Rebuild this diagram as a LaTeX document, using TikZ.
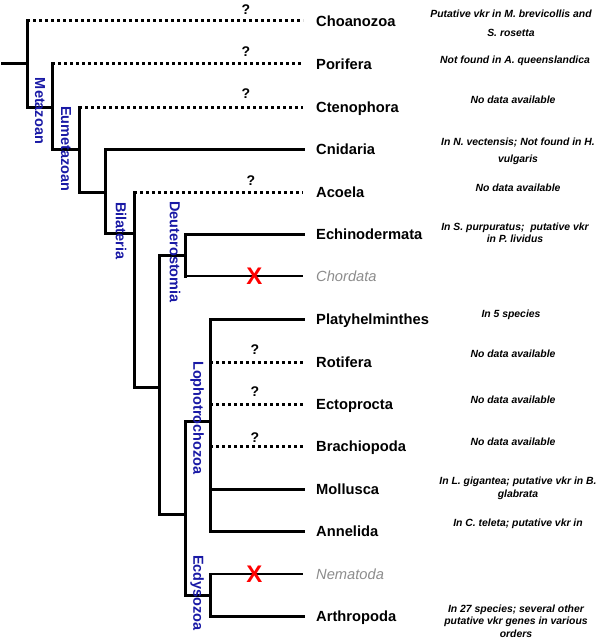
\documentclass[tikz,border=0pt]{standalone}
\usepackage{fontspec}
\setmainfont{Liberation Sans}
\usepackage{xcolor}
\usepackage{tikz}
\definecolor{cladeblue}{RGB}{25,25,165}
\definecolor{lostgray}{RGB}{140,140,140}
\tikzset{
  branch/.style={line width=3pt, line cap=rect},
  dotbranch/.style={line width=3pt, dash pattern=on 3pt off 3pt},
  lostbranch/.style={line width=1.3pt},
  taxon/.style={anchor=west, inner xsep=13pt, inner ysep=0pt, text height=10.5pt, text depth=0pt,
    font=\fontsize{14.7}{17}\selectfont\bfseries},
  losttaxon/.style={taxon, text=lostgray, font=\fontsize{14.7}{17}\selectfont\itshape},
  clade/.style={rotate=-90, text=cladeblue, inner sep=0pt, font=\fontsize{14.5}{17}\selectfont\bfseries},
  note/.style={align=center, inner sep=0pt, font=\fontsize{10.4}{12.5}\selectfont\bfseries\itshape\frenchspacing},
  qmark/.style={inner sep=0pt, font=\fontsize{14}{16}\selectfont\bfseries},
  lostmark/.style={inner sep=0pt, text=red, font=\fontsize{24}{26}\selectfont\bfseries}
}
\begin{document}
\begin{tikzpicture}[x=1pt,y=-1pt]
\useasboundingbox (0,0) rectangle (600,642);
  \node[taxon] (choano) at (303,21) {Choanozoa};
  \node[taxon] (porif) at (303,64) {Porifera};
  \node[taxon] (cteno) at (303,107) {Ctenophora};
  \node[taxon] (cnid) at (303,149) {Cnidaria};
  \node[taxon] (acoel) at (303,192) {Acoela};
  \node[taxon] (echino) at (303,234) {Echinodermata};
  \node[losttaxon] (chord) at (303,276) {Chordata};
  \node[taxon] (platy) at (303,319) {Platyhelminthes};
  \node[taxon] (rotif) at (303,362) {Rotifera};
  \node[taxon] (ectop) at (303,404) {Ectoprocta};
  \node[taxon] (brach) at (303,446) {Brachiopoda};
  \node[taxon] (mollu) at (303,489) {Mollusca};
  \node[taxon] (annel) at (303,531) {Annelida};
  \node[losttaxon] (nemat) at (303,574) {Nematoda};
  \node[taxon] (arthr) at (303,616) {Arthropoda};

  \coordinate (root) at (2,64);
  \coordinate (m1) at (27,64);
  \coordinate (m2) at (52,107);
  \coordinate (m3) at (79,149);
  \coordinate (m4) at (105,192);
  \coordinate (bilat) at (134,233);
  \coordinate (m5) at (159,387);
  \coordinate (deut) at (185,255);
  \coordinate (prot) at (185,514);
  \coordinate (lopho) at (210,421);
  \coordinate (ecdy) at (210,595);

  \draw[branch] (root) -- (m1);
  \draw[branch] (m1 |- choano) -- (m1 |- m2) -- (m2);
  \draw[dotbranch] (m1 |- choano) -- (choano.west);
  \draw[branch] (m2 |- porif) -- (m2 |- m3) -- (m3);
  \draw[dotbranch] (m2 |- porif) -- (porif.west);
  \draw[branch] (m3 |- cteno) -- (m3 |- m4) -- (m4);
  \draw[dotbranch] (m3 |- cteno) -- (cteno.west);
  \draw[branch] (cnid.west) -- (m4 |- cnid) -- (m4 |- bilat) -- (bilat);
  \draw[branch] (bilat |- acoel) -- (bilat |- m5) -- (m5);
  \draw[dotbranch] (bilat |- acoel) -- (acoel.west);
  \draw[branch] (deut) -- (m5 |- deut) -- (m5 |- prot) -- (prot);
  \draw[branch] (echino.west) -- (deut |- echino) -- (deut |- chord);
  \draw[lostbranch] (deut |- chord) -- (chord.west);
  \draw[branch] (lopho) -- (prot |- lopho) -- (prot |- ecdy) -- (ecdy);
  \draw[branch] (platy.west) -- (lopho |- platy) -- (lopho |- annel) -- (annel.west);
  \draw[dotbranch] (lopho |- rotif) -- (rotif.west);
  \draw[dotbranch] (lopho |- ectop) -- (ectop.west);
  \draw[dotbranch] (lopho |- brach) -- (brach.west);
  \draw[branch] (lopho |- mollu) -- (mollu.west);
  \draw[branch] (ecdy |- nemat) -- (ecdy |- arthr) -- (arthr.west);
  \draw[lostbranch] (ecdy |- nemat) -- (nemat.west);

  \node[qmark] (q1) at (246,10) {?};
  \node[qmark] (q2) at (246,52) {?};
  \node[qmark] (q3) at (246,94) {?};
  \node[qmark] (q4) at (251,181) {?};
  \node[qmark] (q5) at (255,350) {?};
  \node[qmark] (q6) at (255,392) {?};
  \node[qmark] (q7) at (255,438) {?};
  \node[lostmark] (x1) at (254.5,276) {X};
  \node[lostmark] (x2) at (254.5,574) {X};

  \node[clade] (metazoan) at (40,111) {Metazoan};
  \node[clade] (eumetazoan) at (66,149) {Eumetazoan};
  \node[clade] (bilateria) at (121,231) {Bilateria};
  \node[clade] (deuterostomia) at (175,252) {Deuterostomia};
  \node[clade] (lophotrochozoa) at (197,418) {Lophotrochozoa};
  \node[clade] (ecdysozoa) at (197,593) {Ecdysozoa};

  \node[note] (n-choano) at (511,23.5) {Putative vkr in M. brevicollis and\\[6pt]S. rosetta};
  \node[note] (n-porif) at (515,61) {Not found in A. queenslandica};
  \node[note] (n-cteno) at (513,100) {No data available};
  \node[note] (n-cnid) at (518,151.5) {In N. vectensis; Not found in H.\\[4pt]vulgaris};
  \node[note] (n-acoel) at (518,188) {No data available};
  \node[note] (n-echino) at (515,233) {In S. purpuratus;~ putative vkr\\in P. lividus};
  \node[note] (n-platy) at (511,315) {In 5 species};
  \node[note] (n-rotif) at (513,354) {No data available};
  \node[note] (n-ectop) at (513,400) {No data available};
  \node[note] (n-brach) at (513,442) {No data available};
  \node[note] (n-mollu) at (518,488.5) {In L. gigantea; putative vkr in B.\\glabrata};
  \node[note] (n-annel) at (518,524) {In C. teleta; putative vkr in};
  \node[note] (n-arthr) at (516,621) {In 27 species; several other\\putative vkr genes in various\\orders};
\end{tikzpicture}
\end{document}
